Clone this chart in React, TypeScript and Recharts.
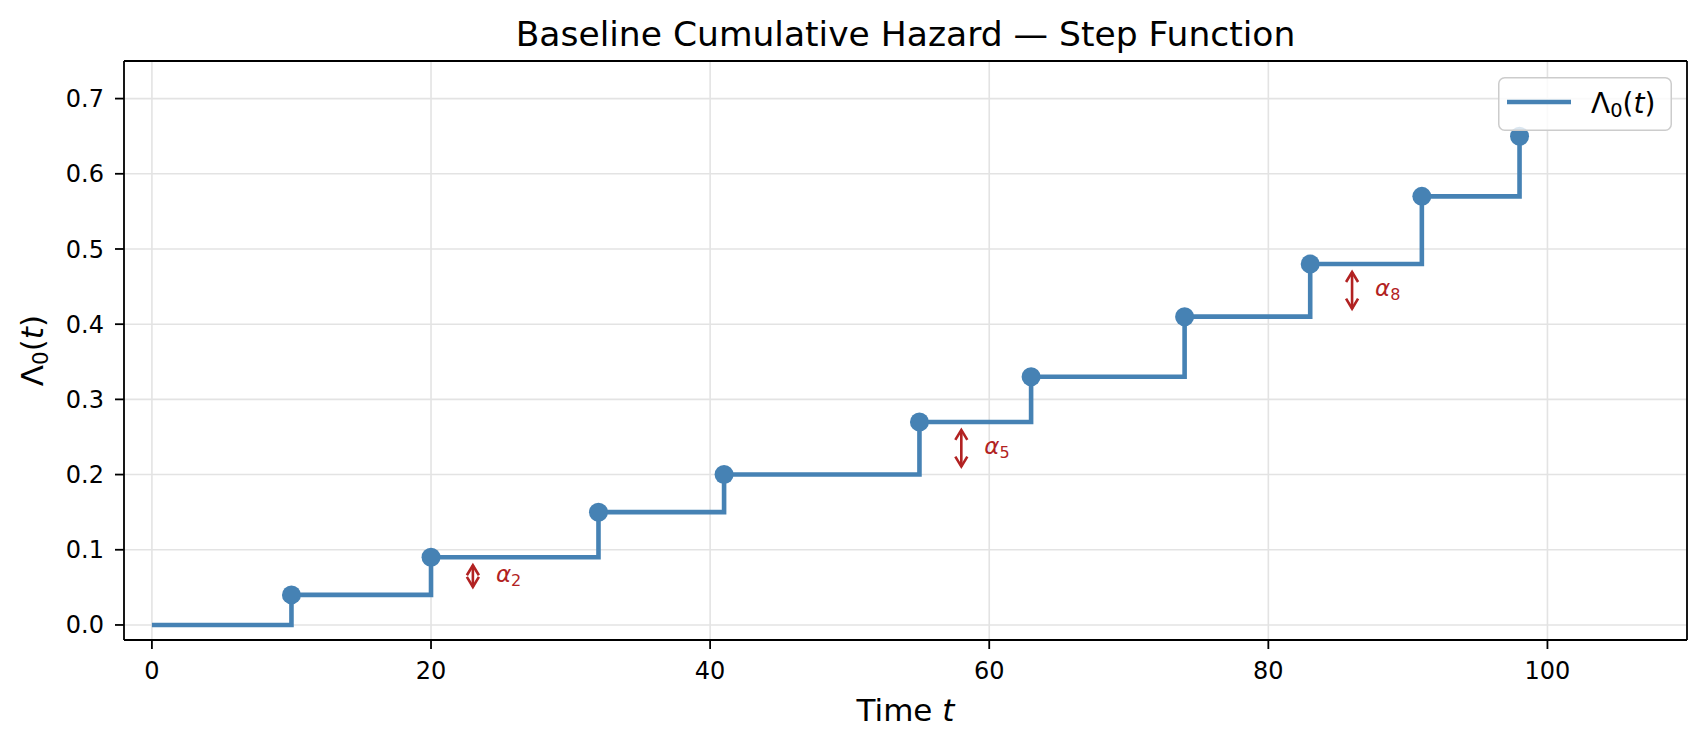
import React from 'react';
import {
  ComposedChart,
  Line,
  Scatter,
  XAxis,
  YAxis,
  CartesianGrid,
  ReferenceLine,
  Legend,
} from 'recharts';

// event times and the cumulative hazard right after each jump
const times = [0, 10, 20, 32, 41, 55, 63, 74, 83, 91, 98];
const hazard = [0, 0.04, 0.09, 0.15, 0.2, 0.27, 0.33, 0.41, 0.48, 0.57, 0.65];

const xTicks = [0, 20, 40, 60, 80, 100];
const yTicks = [0, 0.1, 0.2, 0.3, 0.4, 0.5, 0.6, 0.7];

// jumps that get an alpha arrow (index into times), arrow drawn a bit to the right
const alphaIdx = [2, 5, 8];
const alphaShift = 3;

const BLUE = '#4682b4';
const RED = '#b22222';
const FONT = 'DejaVu Sans';

const stepData = times.map((t, i) => ({ t, h: hazard[i] }));
const jumpData = stepData.slice(1);

const arrowShape = (sub: string) => (p: any) => {
  const x = p.x1;
  const lo = Math.max(p.y1, p.y2) - 8;
  const hi = Math.min(p.y1, p.y2) + 8;
  const hl = 10;
  const hw = 6;
  const mid = (lo + hi) / 2;
  return (
    <g>
      <line x1={x} y1={lo} x2={x} y2={hi} stroke={RED} strokeWidth={2.6} />
      <polyline
        points={`${x - hw},${hi + hl} ${x},${hi} ${x + hw},${hi + hl}`}
        fill="none"
        stroke={RED}
        strokeWidth={2.6}
      />
      <polyline
        points={`${x - hw},${lo - hl} ${x},${lo} ${x + hw},${lo - hl}`}
        fill="none"
        stroke={RED}
        strokeWidth={2.6}
      />
      <text x={x + 23} y={mid + 6} fill={RED} fontFamily={FONT} fontSize={23}>
        <tspan fontStyle="italic">α</tspan>
        <tspan fontSize={16} dy={3.5}>{sub}</tspan>
      </text>
    </g>
  );
};

const renderLegend = () => (
  <svg width={174} height={54} style={{ display: 'block' }}>
    <rect
      x={0.75}
      y={0.75}
      width={172.5}
      height={52.5}
      rx={6}
      fill="#fff"
      fillOpacity={0.8}
      stroke="#cccccc"
      strokeWidth={1.5}
    />
    <line x1={9} y1={25} x2={73} y2={25} stroke={BLUE} strokeWidth={4.6} />
    <text x={93} y={36} fontFamily={FONT} fontSize={28} fill="#000">
      Λ<tspan fontSize={19.5} dy={4}>0</tspan>
      <tspan dy={-4}>(</tspan>
      <tspan fontStyle="italic">t</tspan>)
    </text>
  </svg>
);

const titleLabel = (props: any) => {
  const vb = props.viewBox;
  return (
    <text
      x={vb.x + vb.width / 2}
      y={vb.y + vb.height - 15}
      textAnchor="middle"
      fontFamily={FONT}
      fontSize={34.5}
      fill="#000"
    >
      Baseline Cumulative Hazard — Step Function
    </text>
  );
};

const xLabel = (props: any) => {
  const vb = props.viewBox;
  return (
    <text
      x={vb.x + vb.width / 2}
      y={vb.y + 81}
      textAnchor="middle"
      fontFamily={FONT}
      fontSize={31}
      fill="#000"
    >
      Time <tspan fontStyle="italic">t</tspan>
    </text>
  );
};

const yLabel = (props: any) => {
  const vb = props.viewBox;
  const cx = 43;
  const cy = vb.y + vb.height / 2;
  return (
    <text
      x={cx}
      y={cy}
      textAnchor="middle"
      transform={`rotate(-90, ${cx}, ${cy})`}
      fontFamily={FONT}
      fontSize={31}
      fill="#000"
    >
      Λ<tspan fontSize={21.5} dy={5}>0</tspan>
      <tspan dy={-5}>(</tspan>
      <tspan fontStyle="italic">t</tspan>)
    </text>
  );
};

export default function App() {
  return (
    <div style={{ position: 'absolute', left: 0, top: 0, fontFamily: FONT }}>
      <ComposedChart
        width={1705}
        height={746}
        margin={{ top: 60, right: 17, bottom: 0, left: 0 }}
      >
        <CartesianGrid stroke="#e3e3e3" strokeWidth={1.6} />
        <XAxis
          dataKey="t"
          type="number"
          domain={[-2, 110]}
          ticks={xTicks}
          allowDataOverflow
          height={106}
          tickSize={9}
          tickMargin={13}
          tick={{ fontSize: 24, fill: '#000', fontFamily: FONT }}
          tickLine={{ stroke: '#000', strokeWidth: 1.8 }}
          axisLine={{ stroke: '#000', strokeWidth: 1.8 }}
          label={xLabel}
        />
        <XAxis
          xAxisId="top"
          orientation="top"
          type="number"
          domain={[0, 1]}
          ticks={[]}
          height={1}
          tick={false}
          tickLine={false}
          axisLine={{ stroke: '#000', strokeWidth: 1.8 }}
          label={titleLabel}
        />
        <YAxis
          type="number"
          domain={[-0.02, 0.75]}
          ticks={yTicks}
          allowDataOverflow
          width={124}
          tickSize={9}
          tickMargin={11}
          tickFormatter={(v: number) => v.toFixed(1)}
          tick={{ fontSize: 24, fill: '#000', fontFamily: FONT }}
          tickLine={{ stroke: '#000', strokeWidth: 1.8 }}
          axisLine={{ stroke: '#000', strokeWidth: 1.8 }}
          label={yLabel}
        />
        <YAxis
          yAxisId="right"
          orientation="right"
          type="number"
          domain={[0, 1]}
          ticks={[]}
          width={1}
          tick={false}
          tickLine={false}
          axisLine={{ stroke: '#000', strokeWidth: 1.8 }}
        />
        <Line
          data={stepData}
          dataKey="h"
          type="stepAfter"
          stroke={BLUE}
          strokeWidth={4.6}
          dot={false}
          activeDot={false}
          isAnimationActive={false}
        />
        <Scatter
          data={jumpData}
          dataKey="h"
          fill={BLUE}
          isAnimationActive={false}
          shape={(p: any) => <circle cx={p.cx} cy={p.cy} r={9.5} fill={BLUE} />}
        />
        {alphaIdx.map((i) => (
          <ReferenceLine
            key={`alpha-${i}`}
            segment={[
              { x: times[i] + alphaShift, y: hazard[i - 1] },
              { x: times[i] + alphaShift, y: hazard[i] },
            ]}
            shape={arrowShape(String(i))}
          />
        ))}
        <Legend
          layout="horizontal"
          verticalAlign="middle"
          align="center"
          content={renderLegend}
          wrapperStyle={{ position: 'absolute', left: 1498, top: 77, width: 174, height: 54 }}
        />
      </ComposedChart>
    </div>
  );
}
